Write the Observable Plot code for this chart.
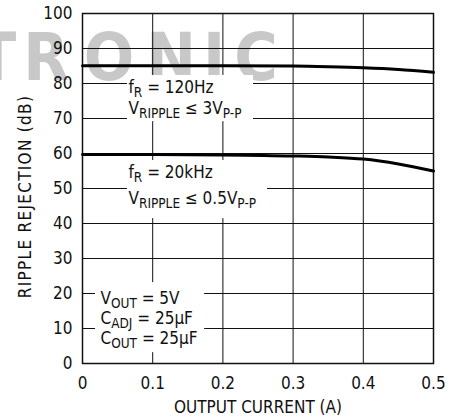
<!DOCTYPE html>
<html>
<head>
<meta charset="utf-8">
<script src="https://cdn.jsdelivr.net/npm/d3@7"></script>
<script src="https://cdn.jsdelivr.net/npm/@observablehq/plot@0.6"></script>
<style>
  html, body { margin: 0; padding: 0; background: #fff; }
  #chart { width: 463px; height: 418px; }
</style>
</head>
<body>
<div id="chart"></div>
<script>
// ---- data ----
const currentA = [0, 0.1, 0.2, 0.3, 0.35, 0.4, 0.45, 0.5];
const rejection120Hz = [85.1, 85.1, 85.1, 85.0, 84.8, 84.5, 84.0, 83.2];
const rejection20kHz = [59.7, 59.7, 59.6, 59.3, 59.0, 58.4, 57.0, 55.0];

const xTicks = [0, 0.1, 0.2, 0.3, 0.4, 0.5];
const yTicks = [0, 10, 20, 30, 40, 50, 60, 70, 80, 90, 100];
const xGrid = [0.1, 0.2, 0.3, 0.4];
const yGrid = [10, 20, 30, 40, 50, 60, 70, 80, 90];

const xTitle = "OUTPUT CURRENT (A)";
const yTitle = "RIPPLE REJECTION (dB)";

// annotation text (subscripts marked with _{...}), anchored in data units
const noteText = [
  "f_{R} = 120Hz", "V_{RIPPLE} ≤ 3V_{P-P}",
  "f_{R} = 20kHz", "V_{RIPPLE} ≤ 0.5V_{P-P}",
  "V_{OUT} = 5V", "C_{ADJ} = 25µF", "C_{OUT} = 25µF"
];
const noteX = [0.0655, 0.0655, 0.0655, 0.0655, 0.0256, 0.0256, 0.0256];
const noteY = [77.4, 71.3, 52.9, 45.7, 17.1, 11.4, 5.7];

// white label boxes that interrupt the grid
const boxX1 = [0.064, 0.064, 0.0185];
const boxX2 = [0.2436, 0.2635, 0.174];
const boxY1 = [69.1, 41.4, 3.1];
const boxY2 = [82.3, 58.0, 23.1];

// ---- build tables ----
const curves = [
  ...currentA.map((x, i) => ({x, y: rejection120Hz[i], s: "120Hz"})),
  ...currentA.map((x, i) => ({x, y: rejection20kHz[i], s: "20kHz"}))
];
const notes = noteText.map((t, i) => ({t, x: noteX[i], y: noteY[i]}));
const boxes = boxX1.map((x1, i) => ({x1, x2: boxX2[i], y1: boxY1[i], y2: boxY2[i]}));

const FONT = "'Liberation Sans Narrow', 'DejaVu Sans Condensed', 'Liberation Sans', sans-serif";

const plot = Plot.plot({
  width: 463,
  height: 418,
  marginLeft: 82,
  marginRight: 30,
  marginTop: 13,
  marginBottom: 55,
  style: {fontFamily: FONT, fontSize: "17px", color: "#111", background: "transparent"},
  x: {domain: [0, 0.5]},
  y: {domain: [0, 100]},
  marks: [
    Plot.gridX(xGrid, {stroke: "#111", strokeOpacity: 1, strokeWidth: 1}),
    Plot.gridY(yGrid, {stroke: "#111", strokeOpacity: 1, strokeWidth: 1}),
    Plot.rect(boxes, {x1: "x1", x2: "x2", y1: "y1", y2: "y2", fill: "white"}),
    Plot.frame({stroke: "#111", strokeWidth: 1.5}),
    Plot.line(curves, {x: "x", y: "y", z: "s", stroke: "#000", strokeWidth: 3, curve: "monotone-x"}),
    Plot.axisX({ticks: xTicks, tickSize: 0, tickPadding: 13, tickFormat: d => String(d), label: null}),
    Plot.axisY({ticks: yTicks, tickSize: 0, tickPadding: 10, tickFormat: d => String(d), label: null}),
    Plot.text([yTitle], {frameAnchor: "left", dx: -57, dy: 8, rotate: -90, textAnchor: "middle", lineAnchor: "middle", fontSize: 17, ariaLabel: () => "ytitle"}),
    Plot.text([xTitle], {frameAnchor: "bottom", dy: 49, textAnchor: "middle", lineAnchor: "bottom", fontSize: 17}),
    Plot.text(notes, {x: "x", y: "y", text: "t", textAnchor: "start", lineAnchor: "bottom", fontSize: 17, fill: "#111"})
  ]
});

// slightly looser letter spacing on the vertical title, as in the reference
plot.querySelectorAll('text[aria-label="ytitle"]').forEach(n => n.setAttribute("letter-spacing", "1.3"));

// convert _{...} markup into subscript tspans
const svgNS = "http://www.w3.org/2000/svg";
plot.querySelectorAll("text").forEach(node => {
  const raw = node.textContent;
  if (!raw.includes("_{")) return;
  while (node.firstChild) node.removeChild(node.firstChild);
  const parts = raw.split(/(_\{[^}]*\})/);
  let shifted = false;
  parts.forEach(p => {
    if (!p) return;
    const ts = document.createElementNS(svgNS, "tspan");
    if (p.startsWith("_{")) {
      ts.textContent = p.slice(2, -1);
      ts.setAttribute("font-size", "13.5");
      ts.setAttribute("dy", "4");
      shifted = true;
    } else {
      ts.textContent = p;
      if (shifted) { ts.setAttribute("dy", "-4"); shifted = false; }
    }
    node.appendChild(ts);
  });
});

// faint background watermark letters (behind everything)
const wm = document.createElementNS(svgNS, "g");
wm.setAttribute("aria-label", "watermark");
[["T", -4], ["R", 46], ["O", 109], ["N", 171], ["I", 214], ["C", 256]].forEach(([ch, cx]) => {
  const t = document.createElementNS(svgNS, "text");
  t.textContent = ch;
  t.setAttribute("x", cx);
  t.setAttribute("y", 80);
  t.setAttribute("text-anchor", "middle");
  t.setAttribute("font-family", FONT);
  t.setAttribute("font-weight", "bold");
  t.setAttribute("font-size", "66");
  t.setAttribute("fill", "#c8c8c8");
  wm.appendChild(t);
});
plot.insertBefore(wm, plot.firstChild.nextSibling);

document.getElementById("chart").appendChild(plot);
</script>
</body>
</html>
